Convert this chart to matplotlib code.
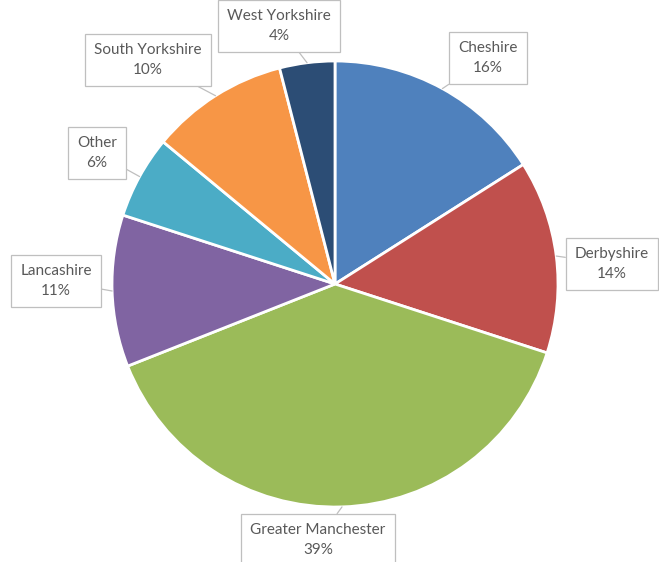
import numpy as np
import matplotlib.pyplot as plt

labels = ["Cheshire", "Derbyshire", "Greater Manchester", "Lancashire",
          "Other", "South Yorkshire", "West Yorkshire"]
shares = [16, 14, 39, 11, 6, 10, 4]
colors = ["#4F81BD", "#C0504D", "#9BBB59", "#8064A2",
          "#4BACC6", "#F79646", "#2C4D75"]
# label box centres (pixels from top-left)
label_pos = [(488, 58), (612, 264), (318, 540), (56, 281),
             (97, 153), (148, 60), (279, 26)]

W, H = 659, 562
fig = plt.figure(figsize=(W / 100, H / 100), dpi=100)
ax = fig.add_axes([0, 0, 1, 1])

cx, cy, r = 335, H - 284, 223
wedges, _ = ax.pie(shares, colors=colors, startangle=90, counterclock=False,
                   center=(cx, cy), radius=r, frame=True,
                   wedgeprops=dict(edgecolor="white", linewidth=2))
ax.set_xlim(0, W)
ax.set_ylim(0, H)
ax.set_aspect("equal")
ax.axis("off")

for w, lab, s, (lx, ly) in zip(wedges, labels, shares, label_pos):
    mid = np.deg2rad((w.theta1 + w.theta2) / 2)
    px, py = cx + r * np.cos(mid), cy + r * np.sin(mid)
    ax.annotate(f"{lab}\n{s}%", xy=(px, py), xytext=(lx, H - ly),
                ha="center", va="center", fontsize=11, color="#595959",
                family=["Lato", "DejaVu Sans"], linespacing=1.5,
                bbox=dict(boxstyle="square,pad=0.6", fc="white",
                          ec="#BFBFBF", lw=0.9),
                arrowprops=dict(arrowstyle="-", color="#BFBFBF", lw=0.9,
                                shrinkA=0, shrinkB=0))

fig.savefig("out.png", dpi=100, facecolor="white")
